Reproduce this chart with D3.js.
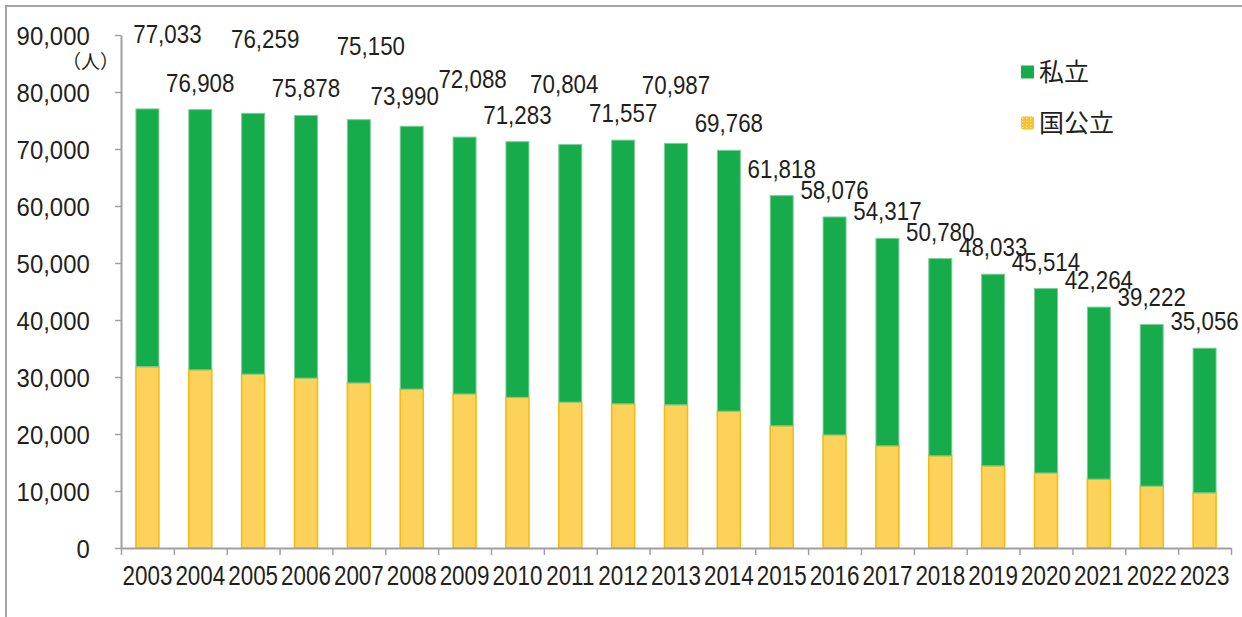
<!DOCTYPE html>
<html>
<head>
<meta charset="utf-8">
<style>
    body { margin: 0; background-color: #fff; }
    svg { display: block; background-color: #fff; }
    .num { font-family: "Liberation Sans", Arial, sans-serif; fill: #231f20; }
    .jp { font-family: "Noto Sans CJK JP", sans-serif; fill: #231f20; }
</style>
<script src="https://cdn.jsdelivr.net/npm/d3@7"></script>
</head>
<body>
<div id="chart"></div>
<script>
// years on the x axis
var years = ["2003","2004","2005","2006","2007","2008","2009","2010","2011","2012","2013",
             "2014","2015","2016","2017","2018","2019","2020","2021","2022","2023"];
// total labels above the bars
var totals = [77033,76908,76259,75878,75150,73990,72088,71283,70804,71557,70987,
              69768,61818,58076,54317,50780,48033,45514,42264,39222,35056];
// 国公立
var publicVals = [31800,31250,30500,29800,28950,27870,27020,26430,25580,25290,25120,
                  24000,21430,19830,17920,16170,14410,13160,12080,10850,9680];
// 私立
var privateVals = [45233,45658,45759,46078,46200,46120,45068,44853,45224,46267,45867,
                   45768,40388,38246,36397,34610,33623,32354,30184,28372,25376];
var yTicks = [0,10000,20000,30000,40000,50000,60000,70000,80000,90000];
var seriesNames = ["国公立", "私立"];
// hand-moved total labels (dx, dy in px), like in the original sheet
var labelNudge = [[20,-48],[0,0],[12,-47],[0,0],[12,-47],[-7,-3],[8,-31],[0,0],[-6,-33],[0,0],[0,-31],
                  [0,0],[0,0],[0,0],[0,0],[0,0],[0,0],[0,0],[0,0],[0,0],[0,0]];

var W = 1242, H = 617;
var svg = d3.select("#chart").append("svg").attr("width", W).attr("height", H);

// outer frame of the chart area
svg.append("rect").attr("x", 6).attr("y", 6).attr("width", W + 20).attr("height", H + 20)
    .attr("fill", "none").attr("stroke", "#a6a6a6").attr("stroke-width", 2);

var x = d3.scaleBand().domain(years).range([121, 1231]).paddingInner(0.565).paddingOuter(0.2825);
var y = d3.scaleLinear().domain([0, 90000]).range([548, 35]);

var table = years.map(function (yr, i) {
    return { year: yr, "国公立": publicVals[i], "私立": privateVals[i], total: totals[i], i: i };
});
var stacked = d3.stack().keys(seriesNames)(table);
var fills = { "国公立": "#fcd25a", "私立": "#16ab4b" };
var strokes = { "国公立": "#f6bb12", "私立": "#7fcf98" };

// pattern for the 国公立 legend key
var defs = svg.append("defs");
var pat = defs.append("pattern").attr("id", "dots").attr("patternUnits", "userSpaceOnUse")
    .attr("width", 4).attr("height", 3);
pat.append("rect").attr("width", 4).attr("height", 3).attr("fill", "#fbc02d");
pat.append("rect").attr("x", 1).attr("y", 1).attr("width", 1.2).attr("height", 1).attr("fill", "#fff3c4");

// bars
svg.selectAll("g.series").data(stacked).enter().append("g")
    .attr("class", "series")
    .attr("fill", function (d) { return fills[d.key]; })
    .attr("stroke", function (d) { return strokes[d.key]; })
    .attr("stroke-width", function (d) { return d.key === "国公立" ? 1.6 : 1; })
  .selectAll("rect").data(function (d) { return d; }).enter().append("rect")
    .attr("x", function (d) { return x(d.data.year); })
    .attr("y", function (d) { return y(d[1]); })
    .attr("width", x.bandwidth())
    .attr("height", function (d) { return y(d[0]) - y(d[1]); });

// y axis
var yAxis = svg.append("g").attr("transform", "translate(121,0)")
    .call(d3.axisLeft(y).tickValues(yTicks).tickFormat(d3.format(",")).tickSize(6).tickSizeOuter(0).tickPadding(28));
yAxis.select(".domain").attr("stroke", "#a0a0a0").attr("stroke-width", 2);
yAxis.selectAll(".tick line").attr("stroke", "#a0a0a0").attr("stroke-width", 1.5);
yAxis.selectAll(".tick text").attr("class", "num").attr("font-size", 26)
    .attr("dy", "0.36em").attr("transform", "scale(0.92,1)");

// x axis: ticks on category edges, labels in the middle
var xEdge = d3.scaleLinear().domain([0, years.length]).range([121, 1231]);
var xTicks = svg.append("g").attr("transform", "translate(0,548)")
    .call(d3.axisBottom(xEdge).tickValues(d3.range(years.length + 1)).tickFormat("").tickSize(7).tickSizeOuter(0));
xTicks.select(".domain").attr("stroke", "#a0a0a0").attr("stroke-width", 2);
xTicks.selectAll(".tick line").attr("stroke", "#a0a0a0").attr("stroke-width", 1.5);

var xLab = svg.append("g").attr("transform", "translate(0,548)")
    .call(d3.axisBottom(x).tickSize(0).tickPadding(0));
xLab.select(".domain").remove();
xLab.selectAll(".tick text").attr("class", "num").attr("font-size", 27)
    .attr("y", 0).attr("dy", "1.37em").attr("transform", "scale(0.83,1)")
    .attr("x", 0);

// total labels
svg.append("g").selectAll("g").data(table).enter().append("g")
    .attr("transform", function (d) {
        var n = labelNudge[d.i];
        return "translate(" + (x(d.year) + x.bandwidth() / 2 + n[0]) + "," + (y(d.total) - 18 + n[1]) + ")";
    })
  .append("text").attr("class", "num").attr("font-size", 26)
    .attr("text-anchor", "middle").attr("transform", "scale(0.86,1)")
    .text(function (d) { return d3.format(",")(d.total); });

// unit
svg.append("text").attr("class", "jp").attr("x", 119).attr("y", 69).attr("font-size", 19)
    .attr("text-anchor", "end").text("（人）");

// legend
var legend = [
    { name: "私立", y: 72, fill: "#16ab4b" },
    { name: "国公立", y: 123, fill: "url(#dots)" }
];
var lg = svg.append("g").selectAll("g").data(legend).enter().append("g")
    .attr("transform", function (d) { return "translate(1021," + d.y + ")"; });
lg.append("rect").attr("x", 0).attr("y", -6.5).attr("width", 13).attr("height", 13)
    .attr("rx", function (d, i) { return i ? 2 : 0; })
    .attr("fill", function (d) { return d.fill; });
lg.append("text").attr("class", "jp").attr("x", 18).attr("y", 0).attr("dy", "0.36em")
    .attr("font-size", 25).text(function (d) { return d.name; });
</script>
</body>
</html>
